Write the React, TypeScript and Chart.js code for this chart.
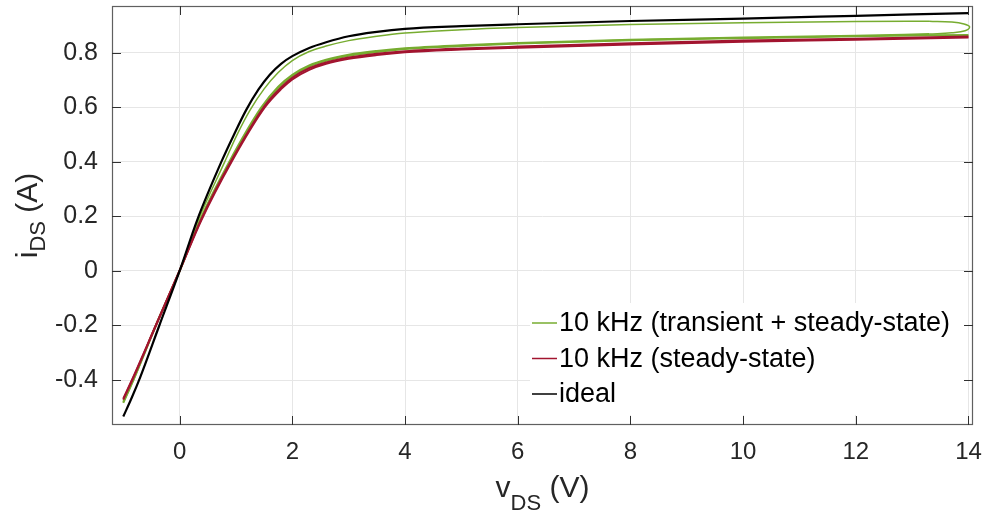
import React, { useEffect, useRef } from "react";
import { Chart, registerables } from "chart.js";

Chart.register(...registerables);

// ---------- axes ----------
const X_MIN = -1.2;
const X_MAX = 14.08;
const Y_MIN = -0.565;
const Y_MAX = 0.972;
const X_TICKS = [0, 2, 4, 6, 8, 10, 12, 14];
const Y_TICKS = [-0.4, -0.2, 0, 0.2, 0.4, 0.6, 0.8];

const LEGEND_LABELS = ["10 kHz (transient + steady-state)", "10 kHz (steady-state)", "ideal"];
const X_TITLE = ["v", "DS", " (V)"];
const Y_TITLE = ["i", "DS", " (A)"];

// ---------- data (v_DS in V, i_DS in A) ----------
// ideal
const IDEAL_V = [-1.0, -0.85, -0.7, -0.36, 0, 0.31, 0.74, 0.96, 1.18, 1.4, 1.6, 1.8, 2.0, 2.3, 2.6, 3.0, 3.5, 4.0, 5.0, 6.0, 8.0, 10.0, 12.0, 14.0];
const IDEAL_I = [-0.534, -0.465, -0.39, -0.2, 0, 0.186, 0.4, 0.498, 0.59, 0.666, 0.72, 0.76, 0.788, 0.818, 0.839, 0.861, 0.877, 0.888, 0.898, 0.905, 0.917, 0.926, 0.936, 0.946];

// 10 kHz transient: first rising branch
const TRANS_UP_V = [0, 0.33, 0.8, 1.02, 1.25, 1.5, 1.75, 2.0, 2.3, 2.6, 3.0, 3.5, 4.0, 5.0, 6.0, 8.0, 10.0, 12.0, 13.3];
const TRANS_UP_I = [0, 0.186, 0.4, 0.5, 0.59, 0.668, 0.728, 0.772, 0.805, 0.825, 0.845, 0.861, 0.873, 0.885, 0.893, 0.904, 0.911, 0.915, 0.9165];
// turning point of the transient loop
const TRANS_TIP_V = [13.3, 13.7, 13.92, 14.02, 13.94, 13.7, 13.3];
const TRANS_TIP_I = [0.9165, 0.913, 0.906, 0.895, 0.881, 0.874, 0.869];
// return branch
const TRANS_RET_V = [-1.0, -0.82, -0.42, 0, 0.36, 0.88, 1.45, 1.75, 2.0, 2.3, 2.6, 3.0, 3.5, 4.0, 5.0, 6.0, 8.0, 10.0, 12.0, 13.3];
const TRANS_RET_I = [-0.484, -0.4, -0.2, 0, 0.186, 0.4, 0.6, 0.676, 0.72, 0.754, 0.775, 0.793, 0.807, 0.817, 0.828, 0.836, 0.848, 0.856, 0.863, 0.869];
// following steady-state sweep of the transient trace
const GREEN_SS_V = [-1.0, -0.82, -0.42, 0, 0.37, 0.9, 1.47, 1.75, 2.0, 2.3, 2.6, 3.0, 3.5, 4.0, 5.0, 6.0, 8.0, 10.0, 12.0, 14.0];
const GREEN_SS_I = [-0.48, -0.398, -0.198, 0, 0.186, 0.4, 0.6, 0.672, 0.715, 0.75, 0.771, 0.789, 0.803, 0.814, 0.825, 0.834, 0.846, 0.854, 0.861, 0.866];

// 10 kHz steady-state (rising and falling sweeps)
const RED_UP_V = [-1.0, -0.84, -0.42, 0, 0.385, 0.92, 1.51, 1.8, 2.0, 2.3, 2.6, 3.0, 3.5, 4.0, 5.0, 6.0, 8.0, 10.0, 12.0, 14.0];
const RED_UP_I = [-0.472, -0.4, -0.2, 0, 0.186, 0.4, 0.6, 0.667, 0.703, 0.738, 0.76, 0.778, 0.792, 0.802, 0.812, 0.819, 0.831, 0.841, 0.848, 0.856];
const RED_DN_V = [-1.0, -0.84, -0.42, 0, 0.385, 0.92, 1.51, 1.8, 2.0, 2.3, 2.6, 3.0, 3.5, 4.0, 5.0, 6.0, 8.0, 10.0, 12.0, 14.0];
const RED_DN_I = [-0.468, -0.397, -0.198, 0.002, 0.19, 0.405, 0.606, 0.673, 0.709, 0.744, 0.765, 0.783, 0.797, 0.806, 0.816, 0.823, 0.835, 0.845, 0.852, 0.86];

const GREEN = "#77AC30";
const RED = "#A2142F";
const BLACK = "#000000";
const FONT = "'Liberation Sans', Arial, Helvetica, sans-serif";
const TEXT = "#262626";

const pts = (xs: number[], ys: number[]) => xs.map((x, i) => ({ x, y: ys[i] }));

const fmt = (v: number) => (Math.abs(v) < 1e-9 ? "0" : Number.isInteger(v) ? String(v) : v.toFixed(1));

const overlay = {
  id: "overlay",
  afterDraw(chart: any) {
    const { ctx, chartArea: a, scales } = chart;
    const xs = scales.x;
    const ys = scales.y;
    ctx.save();

    // legend (opaque, no border)
    const lx = a.left + 418;
    const ly = a.top + 297;
    ctx.fillStyle = "#ffffff";
    ctx.fillRect(lx, ly, 437, 112);
    const colors = [GREEN, RED, BLACK];
    ctx.font = `27px ${FONT}`;
    ctx.textBaseline = "middle";
    ctx.textAlign = "left";
    LEGEND_LABELS.forEach((lab, i) => {
      const yy = ly + 20 + i * 35.5;
      ctx.strokeStyle = colors[i];
      ctx.lineWidth = 1.5;
      ctx.beginPath();
      ctx.moveTo(lx + 2, yy);
      ctx.lineTo(lx + 27, yy);
      ctx.stroke();
      ctx.fillStyle = "#000";
      ctx.fillText(lab, lx + 29, yy + 1);
    });

    // box
    ctx.strokeStyle = "#606060";
    ctx.lineWidth = 1.2;
    ctx.strokeRect(a.left + 0.5, a.top + 0.5, a.right - a.left - 1, a.bottom - a.top - 1);

    // inward tick marks
    ctx.strokeStyle = "#303030";
    ctx.lineWidth = 1;
    ctx.beginPath();
    X_TICKS.forEach((v) => {
      const px = Math.round(xs.getPixelForValue(v)) + 0.5;
      ctx.moveTo(px, a.bottom);
      ctx.lineTo(px, a.bottom - 9);
      ctx.moveTo(px, a.top);
      ctx.lineTo(px, a.top + 9);
    });
    Y_TICKS.forEach((v) => {
      const py = Math.round(ys.getPixelForValue(v)) + 0.5;
      ctx.moveTo(a.left, py);
      ctx.lineTo(a.left + 9, py);
      ctx.moveTo(a.right, py);
      ctx.lineTo(a.right - 9, py);
    });
    ctx.stroke();

    // axis titles with subscripts
    ctx.fillStyle = TEXT;
    ctx.textAlign = "left";
    ctx.textBaseline = "alphabetic";
    const big = `30px ${FONT}`;
    const small = `22px ${FONT}`;
    const measure = (t: string, f: string) => {
      ctx.font = f;
      return ctx.measureText(t).width;
    };
    // x title
    {
      const w0 = measure(X_TITLE[0], big);
      const w1 = measure(X_TITLE[1], small);
      const w2 = measure(X_TITLE[2], big);
      const x0 = (a.left + a.right) / 2 - (w0 + w1 + w2) / 2;
      const base = 497;
      ctx.font = big;
      ctx.fillText(X_TITLE[0], x0, base);
      ctx.font = small;
      ctx.fillText(X_TITLE[1], x0 + w0, base + 13);
      ctx.font = big;
      ctx.fillText(X_TITLE[2], x0 + w0 + w1, base);
    }
    // y title
    {
      const w0 = measure(Y_TITLE[0], big);
      const w1 = measure(Y_TITLE[1], small);
      const w2 = measure(Y_TITLE[2], big);
      ctx.translate(37, (a.top + a.bottom) / 2);
      ctx.rotate(-Math.PI / 2);
      const x0 = -(w0 + w1 + w2) / 2;
      ctx.font = big;
      ctx.fillText(Y_TITLE[0], x0, 0);
      ctx.font = small;
      ctx.fillText(Y_TITLE[1], x0 + w0, 8);
      ctx.font = big;
      ctx.fillText(Y_TITLE[2], x0 + w0 + w1, 0);
    }
    ctx.restore();
  },
};

export default function App() {
  const ref = useRef<HTMLCanvasElement | null>(null);

  useEffect(() => {
    if (!ref.current) return;
    const line = (data: any[], color: string, width: number, mono = true) => ({
      data,
      borderColor: color,
      backgroundColor: color,
      borderWidth: width,
      pointRadius: 0,
      showLine: true,
      fill: false,
      cubicInterpolationMode: mono ? "monotone" : "default",
      tension: mono ? 0 : 0.4,
    });
    const chart = new Chart(ref.current, {
      type: "scatter",
      data: {
        datasets: [
          line(pts(IDEAL_V, IDEAL_I), BLACK, 2.2),
          line(pts(RED_UP_V, RED_UP_I), RED, 2),
          line(pts(RED_DN_V, RED_DN_I), RED, 2),
          line(pts(GREEN_SS_V, GREEN_SS_I), GREEN, 2),
          line(pts(TRANS_RET_V, TRANS_RET_I), GREEN, 2),
          line(pts(TRANS_TIP_V, TRANS_TIP_I), GREEN, 1.5, false),
          line(pts(TRANS_UP_V, TRANS_UP_I), GREEN, 1.5),
        ] as any,
      },
      options: {
        responsive: false,
        animation: false,
        events: [],
        layout: { padding: { top: 6, right: 15, left: 0, bottom: 0 } },
        plugins: { legend: { display: false }, tooltip: { enabled: false } },
        scales: {
          x: {
            type: "linear",
            min: X_MIN,
            max: X_MAX,
            afterBuildTicks: (s: any) => {
              s.ticks = X_TICKS.map((v) => ({ value: v }));
            },
            afterFit: (s: any) => {
              s.height = 93;
              s.paddingLeft = 0;
              s.paddingRight = 0;
            },
            grid: { color: "#e6e6e6", lineWidth: 1, drawTicks: false },
            border: { display: false },
            ticks: {
              padding: 13,
              color: TEXT,
              font: { family: FONT, size: 24 },
              maxRotation: 0,
              autoSkip: false,
              callback: (v: any) => fmt(Number(v)),
            },
          },
          y: {
            type: "linear",
            min: Y_MIN,
            max: Y_MAX,
            afterBuildTicks: (s: any) => {
              s.ticks = Y_TICKS.map((v) => ({ value: v }));
            },
            afterFit: (s: any) => {
              s.width = 112;
              s.paddingTop = 0;
              s.paddingBottom = 0;
            },
            grid: { color: "#e6e6e6", lineWidth: 1, drawTicks: false },
            border: { display: false },
            ticks: {
              padding: 14,
              color: TEXT,
              font: { family: FONT, size: 25 },
              autoSkip: false,
              callback: (v: any) => fmt(Number(v)),
            },
          },
        },
      } as any,
      plugins: [overlay],
    });
    return () => chart.destroy();
  }, []);

  return (
    <div style={{ position: "absolute", left: 0, top: 0, width: 988, height: 518, background: "#fff" }}>
      <canvas ref={ref} width={988} height={518} />
    </div>
  );
}
